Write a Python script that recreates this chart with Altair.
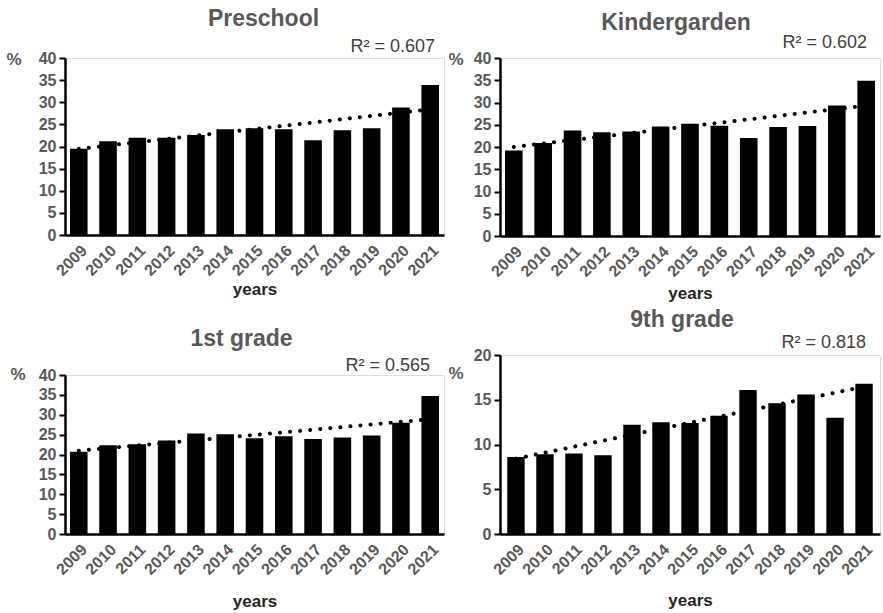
import altair as alt
import pandas as pd

years = list(range(2009, 2022))
preschool = [19.5, 21.2, 22.0, 22.0, 22.6, 23.9, 24.1, 23.9, 21.4, 23.7, 24.1, 28.8, 33.9]
kindergarden = [19.2, 20.9, 23.7, 23.3, 23.5, 24.6, 25.2, 24.8, 22.0, 24.5, 24.7, 29.3, 34.9]
first_grade = [20.7, 22.3, 22.6, 23.5, 25.3, 25.1, 24.1, 24.6, 23.9, 24.3, 24.8, 28.0, 34.7]
ninth_grade = [8.6, 8.9, 9.0, 8.8, 12.2, 12.5, 12.4, 13.2, 16.1, 14.6, 15.6, 13.0, 16.8]
r2_labels = ["R² = 0.607", "R² = 0.602", "R² = 0.565", "R² = 0.818"]

FONT = "Liberation Sans"
GRAY = "#595959"


def panel(title, values, r2, ymax, width, height, pad_outer, title_dx, title_offset,
          r2_dx, r2_dy, pct_x, pct_y, xtitle_pad):
    df = pd.DataFrame({"year": years, "value": values})
    base = alt.Chart(df)
    x_axis = alt.Axis(
        title="years", labelAngle=-45, labelFont=FONT, labelFontSize=16,
        labelFontWeight="bold", labelColor=GRAY, labelPadding=7,
        ticks=False, domainColor="black", domainWidth=2.5,
        titleFont=FONT, titleFontSize=17, titleFontWeight="bold",
        titleColor="#262626", titlePadding=xtitle_pad,
    )
    y_axis = alt.Axis(
        values=list(range(0, ymax + 1, 5)), title="%", titleAngle=0,
        titleX=pct_x, titleY=pct_y, titleAlign="left", titleBaseline="alphabetic",
        titleFont=FONT, titleFontSize=17, titleFontWeight="bold", titleColor=GRAY,
        labelFont=FONT, labelFontSize=16, labelFontWeight="bold", labelColor=GRAY,
        labelPadding=3, labelOverlap=False, grid=False, domainColor="black",
        domainWidth=2.5, tickColor="black", tickWidth=2, tickSize=6,
    )
    x = alt.X("year:O", scale=alt.Scale(paddingInner=0.4, paddingOuter=pad_outer), axis=x_axis)
    y = alt.Y("value:Q", scale=alt.Scale(domain=[0, ymax]), axis=y_axis)
    bars = base.mark_bar(color="black").encode(x=x, y=y)
    trend = base.transform_regression("year", "value").mark_line(
        color="black", strokeWidth=4, strokeDash=[0.1, 10], strokeCap="round"
    ).encode(x=x, y=y)
    label = alt.Chart(pd.DataFrame({"t": [r2]})).mark_text(
        font=FONT, fontSize=18, color="#404040", align="right", baseline="alphabetic"
    ).encode(text="t:N", x=alt.value(width + r2_dx), y=alt.value(r2_dy))
    return alt.layer(bars, trend, label).properties(
        width=width, height=height,
        title=alt.TitleParams(
            text=title, font=FONT, fontSize=23, fontWeight="bold", color=GRAY,
            anchor="middle", dx=title_dx, offset=title_offset,
        ),
    )


p1 = panel("Preschool", preschool, r2_labels[0], 40, 379, 177, 0.17, 9, 7, -9, -6, -59, 6, 3)
p2 = panel("Kindergarden", kindergarden, r2_labels[1], 40, 380, 178, 0.17, -14, -1, -13, -10, -52, 6, 6)
p3 = panel("1st grade", first_grade, r2_labels[2], 40, 379, 159, 0.17, -13, 6, -14, -4, -55, 4, 16)
p4 = panel("9th grade", ninth_grade, r2_labels[3], 20, 380, 179, 0.25, -8, 2, -14, -7, -52, 23, 15)

chart = alt.hconcat(
    alt.vconcat(p1, p3, spacing=29),
    alt.vconcat(p2, p4, spacing=6),
    spacing=2,
).properties(
    padding={"left": 5, "top": 7, "right": 0, "bottom": 0}
).configure_view(stroke=None).configure(background="white")

chart.save("out.html", embed_options={"renderer": "svg", "actions": False})
